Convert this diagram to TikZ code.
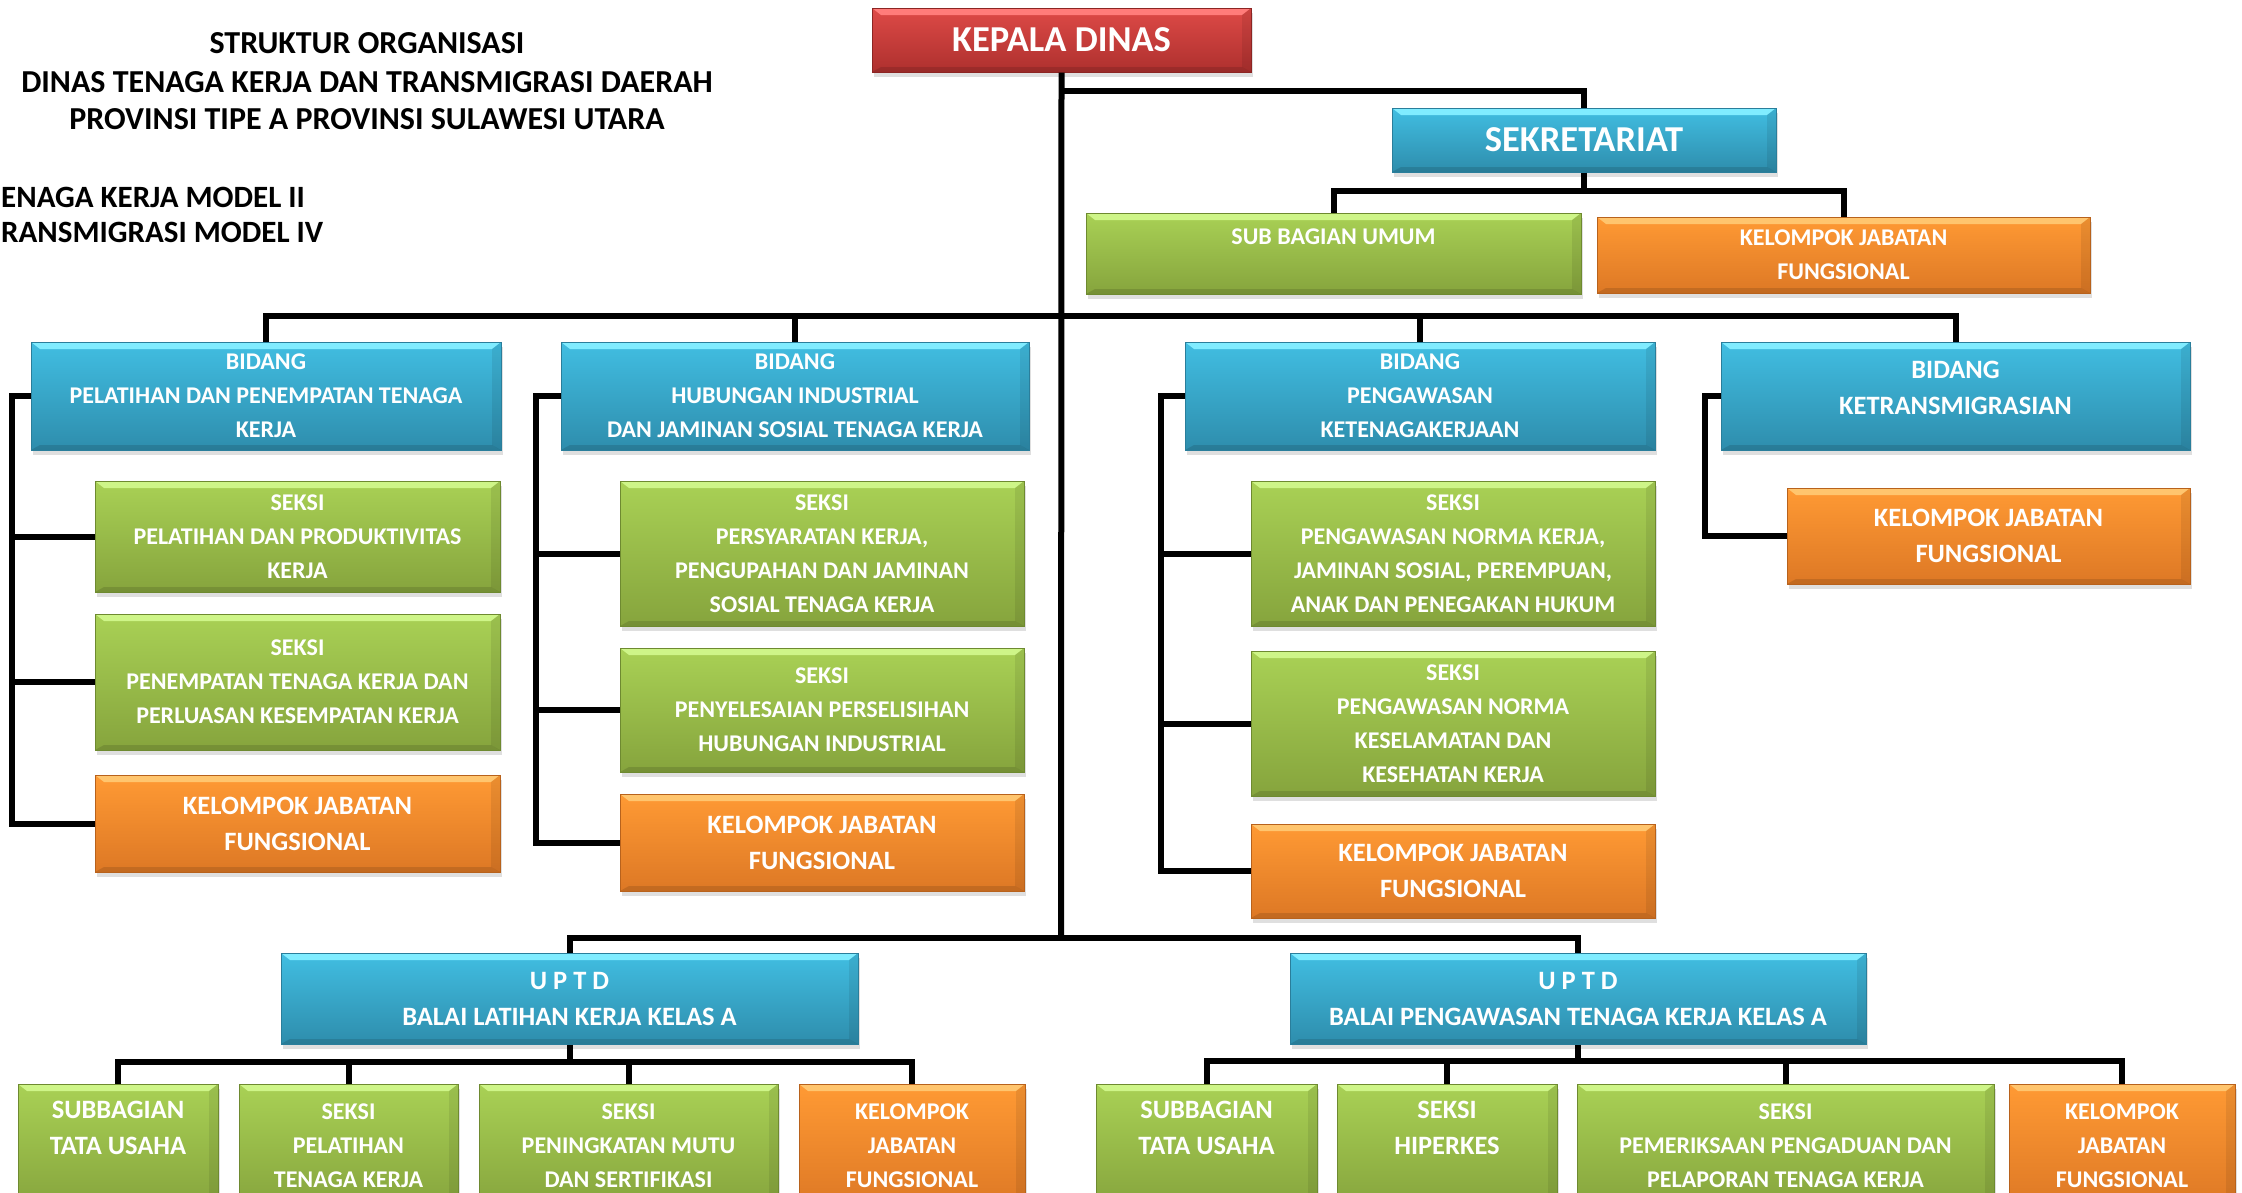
\documentclass[tikz,border=0pt]{standalone}
\usepackage{fontspec}
\setmainfont{Carlito}
\usetikzlibrary{shadows}

\definecolor{merahtop}{HTML}{DE4A47}
\definecolor{merahbot}{HTML}{AE302E}
\definecolor{merahedge}{HTML}{8C2523}
\definecolor{merahlite}{HTML}{FF7C7A}
\definecolor{birutop}{HTML}{41BEE2}
\definecolor{birubot}{HTML}{2E8DAC}
\definecolor{biruedge}{HTML}{2A7E9B}
\definecolor{birulite}{HTML}{80ECFF}
\definecolor{hijautop}{HTML}{A9D155}
\definecolor{hijaubot}{HTML}{86A43D}
\definecolor{hijauedge}{HTML}{6E8A30}
\definecolor{hijaulite}{HTML}{CEF588}
\definecolor{oranyetop}{HTML}{FF9A34}
\definecolor{oranyebot}{HTML}{DD7825}
\definecolor{oranyeedge}{HTML}{B8621C}
\definecolor{oranyelite}{HTML}{FFC56E}

\begin{document}
\begin{tikzpicture}[x=1pt,y=-1pt,
    link/.style={line width=6pt},
    judul/.style={font=\fontsize{32}{38}\selectfont\bfseries, inner sep=0pt},
    kecil/.style={font=\fontsize{24}{34}\selectfont\bfseries},
    sedang/.style={font=\fontsize{26.5}{36}\selectfont\bfseries},
    besar/.style={font=\fontsize{36.5}{40}\selectfont\bfseries},
    kotak/.style={rectangle, inner sep=0pt, align=center, text=white,
      draw=#1edge, line width=1pt, top color=#1top, bottom color=#1bot,
      drop shadow={shadow xshift=2pt, shadow yshift=-5pt, opacity=.25},
      path picture={
        \fill[#1lite] (path picture bounding box.north west) -- (path picture bounding box.north east)
          -- ([shift={(-9pt,-7pt)}]path picture bounding box.north east)
          -- ([shift={(9pt,-7pt)}]path picture bounding box.north west) -- cycle;
        \fill[black,opacity=.12] (path picture bounding box.south west) -- (path picture bounding box.south east)
          -- ([shift={(-9pt,5pt)}]path picture bounding box.south east)
          -- ([shift={(9pt,5pt)}]path picture bounding box.south west) -- cycle;
        \fill[black,opacity=.08] (path picture bounding box.north east) -- (path picture bounding box.south east)
          -- ([shift={(-9pt,5pt)}]path picture bounding box.south east)
          -- ([shift={(-9pt,-7pt)}]path picture bounding box.north east) -- cycle;
      }}]
  \useasboundingbox (0,0) rectangle (2242,1192);
  \clip (0,0) rectangle (2242,1192);

  % Judul
  \node[judul,anchor=base] at (367,53) (judul1) {STRUKTUR ORGANISASI};
  \node[judul,anchor=base] at (367,92) (judul2) {DINAS TENAGA KERJA DAN TRANSMIGRASI DAERAH};
  \node[judul,anchor=base] at (367,129) (judul3) {PROVINSI TIPE A PROVINSI SULAWESI UTARA};
  \node[judul,font=\fontsize{31}{38}\selectfont\bfseries,anchor=base west] at (1,207) (model1) {ENAGA KERJA MODEL II};
  \node[judul,font=\fontsize{31}{38}\selectfont\bfseries,anchor=base west] at (1,242) (model2) {RANSMIGRASI MODEL IV};

  % Kepala dinas dan sekretariat
  \node[kotak=merah,besar,minimum width=379pt,minimum height=64pt] at (1061.5,40) (kepala) {KEPALA DINAS};
  \node[kotak=biru,besar,minimum width=384pt,minimum height=64pt] at (1584,140) (sekretariat) {SEKRETARIAT};
  \node[kotak=hijau,kecil,minimum width=495pt,minimum height=81pt] at (1333.5,253.5) (subum) {SUB BAGIAN UMUM\\~};
  \node[kotak=oranye,kecil,minimum width=493pt,minimum height=76pt] at (1843.5,255) (kjfsek) {KELOMPOK JABATAN\\FUNGSIONAL};

  % Bidang
  \node[kotak=biru,kecil,minimum width=470pt,minimum height=108pt] at (266,396) (bid1)
      {BIDANG\\PELATIHAN DAN PENEMPATAN TENAGA\\KERJA};
  \node[kotak=biru,kecil,minimum width=468pt,minimum height=108pt] at (795,396) (bid2)
      {BIDANG\\HUBUNGAN INDUSTRIAL\\DAN JAMINAN SOSIAL TENAGA KERJA};
  \node[kotak=biru,kecil,minimum width=470pt,minimum height=108pt] at (1420,396) (bid3)
      {BIDANG\\PENGAWASAN\\KETENAGAKERJAAN};
  \node[kotak=biru,sedang,text depth=17pt,minimum width=469pt,minimum height=108pt] at (1955.5,396) (bid4)
      {BIDANG\\KETRANSMIGRASIAN};

  % Seksi dan kelompok jabatan fungsional
  \node[kotak=hijau,kecil,minimum width=405pt,minimum height=111pt] at (297.5,536.5) (sk11)
      {SEKSI\\PELATIHAN DAN PRODUKTIVITAS\\KERJA};
  \node[kotak=hijau,kecil,minimum width=405pt,minimum height=136pt] at (297.5,682) (sk12)
      {SEKSI\\PENEMPATAN TENAGA KERJA DAN\\PERLUASAN KESEMPATAN KERJA};
  \node[kotak=oranye,sedang,minimum width=405pt,minimum height=97pt] at (297.5,823.5) (kjf1)
      {KELOMPOK JABATAN\\FUNGSIONAL};
  \node[kotak=hijau,kecil,minimum width=404pt,minimum height=145pt] at (822,553.5) (sk21)
      {SEKSI\\PERSYARATAN KERJA,\\PENGUPAHAN DAN JAMINAN\\SOSIAL TENAGA KERJA};
  \node[kotak=hijau,kecil,minimum width=404pt,minimum height=124pt] at (822,710) (sk22)
      {SEKSI\\PENYELESAIAN PERSELISIHAN\\HUBUNGAN INDUSTRIAL};
  \node[kotak=oranye,sedang,minimum width=404pt,minimum height=97pt] at (822,842.5) (kjf2)
      {KELOMPOK JABATAN\\FUNGSIONAL};
  \node[kotak=hijau,kecil,minimum width=404pt,minimum height=145pt] at (1453,553.5) (sk31)
      {SEKSI\\PENGAWASAN NORMA KERJA,\\JAMINAN SOSIAL, PEREMPUAN,\\ANAK DAN PENEGAKAN HUKUM};
  \node[kotak=hijau,kecil,minimum width=404pt,minimum height=145pt] at (1453,723.5) (sk32)
      {SEKSI\\PENGAWASAN NORMA\\KESELAMATAN DAN\\KESEHATAN KERJA};
  \node[kotak=oranye,sedang,minimum width=404pt,minimum height=94pt] at (1453,871) (kjf3)
      {KELOMPOK JABATAN\\FUNGSIONAL};
  \node[kotak=oranye,sedang,minimum width=403pt,minimum height=96pt] at (1988.5,536) (kjf4)
      {KELOMPOK JABATAN\\FUNGSIONAL};

  % UPTD
  \node[kotak=biru,sedang,minimum width=577pt,minimum height=91pt] at (569.5,998.5) (uptd1)
      {U P T D\\BALAI LATIHAN KERJA KELAS A};
  \node[kotak=biru,sedang,minimum width=576pt,minimum height=91pt] at (1578,998.5) (uptd2)
      {U P T D\\BALAI PENGAWASAN TENAGA KERJA KELAS A};
  \node[kotak=hijau,sedang,minimum width=200pt,minimum height=124pt] at (118,1146) (u11)
      {SUBBAGIAN\\TATA USAHA\\~};
  \node[kotak=hijau,kecil,minimum width=219pt,minimum height=124pt] at (348.5,1146) (u12)
      {SEKSI\\PELATIHAN\\TENAGA KERJA};
  \node[kotak=hijau,kecil,minimum width=299pt,minimum height=124pt] at (628.5,1146) (u13)
      {SEKSI\\PENINGKATAN MUTU\\DAN SERTIFIKASI};
  \node[kotak=oranye,kecil,minimum width=226pt,minimum height=124pt] at (912,1146) (u14)
      {KELOMPOK\\JABATAN\\FUNGSIONAL};
  \node[kotak=hijau,sedang,minimum width=221pt,minimum height=124pt] at (1206.5,1146) (u21)
      {SUBBAGIAN\\TATA USAHA\\~};
  \node[kotak=hijau,sedang,minimum width=220pt,minimum height=124pt] at (1447,1146) (u22)
      {SEKSI\\HIPERKES\\~};
  \node[kotak=hijau,kecil,minimum width=417pt,minimum height=124pt] at (1785.5,1146) (u23)
      {SEKSI\\PEMERIKSAAN PENGADUAN DAN\\PELAPORAN TENAGA KERJA};
  \node[kotak=oranye,kecil,minimum width=226pt,minimum height=124pt] at (2122,1146) (u24)
      {KELOMPOK\\JABATAN\\FUNGSIONAL};

  % Garis komando
  \coordinate (cabang) at (1061,91);
  \coordinate (simpul) at (1061,316);
  \coordinate (ujung) at (1061,938);
  \coordinate (sekbus) at (1584,191);
  \coordinate (bus1) at (569.5,1062);
  \coordinate (bus2) at (1578,1061);
  \coordinate (rel1) at (12,0);
  \coordinate (rel2) at (536,0);
  \coordinate (rel3) at (1161,0);
  \coordinate (rel4) at (1705,0);

  \draw[link] (kepala.south) -- (ujung);
  \draw[link] (cabang) -| (sekretariat.north);
  \draw[link] (subum.north) |- (sekbus) -| (kjfsek.north);
  \draw[link] (sekretariat.south) -- (sekbus);
  \draw[link] (bid1.north) |- (simpul) -| (bid4.north);
  \foreach \b in {bid2,bid3} \draw[link] (\b.north) -- (\b.north |- simpul);

  \draw[link] (bid1.west) -| (rel1 |- kjf1.west) -- (kjf1.west);
  \foreach \s in {sk11,sk12} \draw[link] (\s.west) -- (rel1 |- \s.west);
  \draw[link] (bid2.west) -| (rel2 |- kjf2.west) -- (kjf2.west);
  \foreach \s in {sk21,sk22} \draw[link] (\s.west) -- (rel2 |- \s.west);
  \draw[link] (bid3.west) -| (rel3 |- kjf3.west) -- (kjf3.west);
  \foreach \s in {sk31,sk32} \draw[link] (\s.west) -- (rel3 |- \s.west);
  \draw[link] (bid4.west) -| (rel4 |- kjf4.west) -- (kjf4.west);

  \draw[link] (uptd1.north) |- (ujung) -| (uptd2.north);
  \draw[link] (uptd1.south) -- (bus1);
  \draw[link] (u11.north) |- (bus1) -| (u14.north);
  \foreach \u in {u12,u13} \draw[link] (\u.north) -- (\u.north |- bus1);
  \draw[link] (uptd2.south) -- (bus2);
  \draw[link] (u21.north) |- (bus2) -| (u24.north);
  \foreach \u in {u22,u23} \draw[link] (\u.north) -- (\u.north |- bus2);
\end{tikzpicture}
\end{document}
